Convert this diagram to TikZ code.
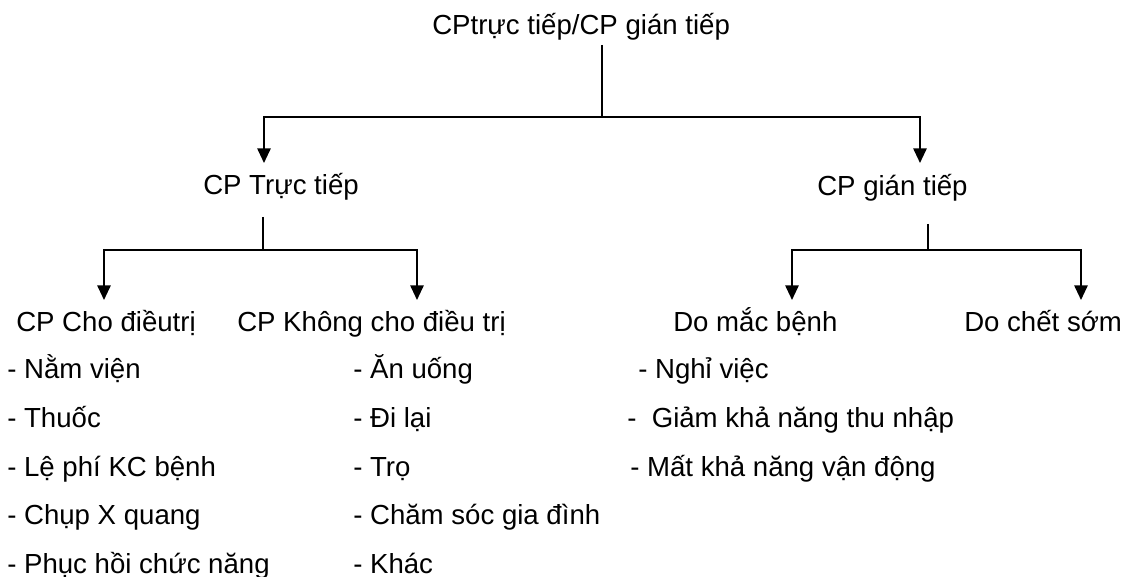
\documentclass[tikz,border=0pt]{standalone}
\usepackage{fontspec}
\setmainfont{Liberation Sans}
\usetikzlibrary{arrows.meta}
\begin{document}
\begin{tikzpicture}[x=0.75pt,y=-0.75pt,
  lbl/.style={anchor=base west,inner sep=0pt,font=\fontsize{20.7}{24}\selectfont},
  conn/.style={line width=1.4pt},
  arr/.style={conn,-{Triangle[length=11pt,width=10pt]}}]
\useasboundingbox (0,0) rectangle (1122,577);
% level 0/1
\node[lbl] (title) at (432,35) {CPtrực tiếp/CP gián tiếp};
\node[lbl] (ct) at (203,195) {CP Trực tiếp};
\node[lbl] (gt) at (817,196) {CP gián tiếp};
% level 2
\node[lbl] (h1) at (16,332) {CP Cho điềutrị};
\node[lbl] (h2) at (237,332) {CP Không cho điều trị};
\node[lbl] (h3) at (673,332) {Do mắc bệnh};
\node[lbl] (h4) at (964,332) {Do chết sớm};
% lists
\node[lbl] (l11) at (7,379) {- Nằm viện};
\node[lbl] (l12) at (7,427.5) {- Thuốc};
\node[lbl] (l13) at (7,476) {- Lệ phí KC bệnh};
\node[lbl] (l14) at (7,524.5) {- Chụp X quang};
\node[lbl] (l15) at (7,573) {- Phục hồi chức năng};
\node[lbl] (l21) at (353,379) {- Ăn uống};
\node[lbl] (l22) at (353,427.5) {- Đi lại};
\node[lbl] (l23) at (353,476) {- Trọ};
\node[lbl] (l24) at (353,524.5) {- Chăm sóc gia đình};
\node[lbl] (l25) at (353,573) {- Khác};
\node[lbl] (l31) at (638,379) {- Nghỉ việc};
\node[lbl] (l32) at (627,427.5) {-~ Giảm khả năng thu nhập};
\node[lbl] (l33) at (630,476) {- Mất khả năng vận động};
% connectors
\coordinate (s0) at (602,45);
\coordinate (j0) at (602,117);
\coordinate (a1) at (264,163);
\coordinate (a2) at (920,163);
\draw[conn] (s0) -- (j0);
\draw[arr] (j0) -| (a1);
\draw[arr] (j0) -| (a2);
\coordinate (s1) at (263,217);
\coordinate (j1) at (263,250);
\coordinate (b1) at (104,300);
\coordinate (b2) at (417,300);
\draw[conn] (s1) -- (j1);
\draw[arr] (j1) -| (b1);
\draw[arr] (j1) -| (b2);
\coordinate (s2) at (928,224);
\coordinate (j2) at (928,250);
\coordinate (b3) at (792,300);
\coordinate (b4) at (1081,300);
\draw[conn] (s2) -- (j2);
\draw[arr] (j2) -| (b3);
\draw[arr] (j2) -| (b4);
\end{tikzpicture}
\end{document}
